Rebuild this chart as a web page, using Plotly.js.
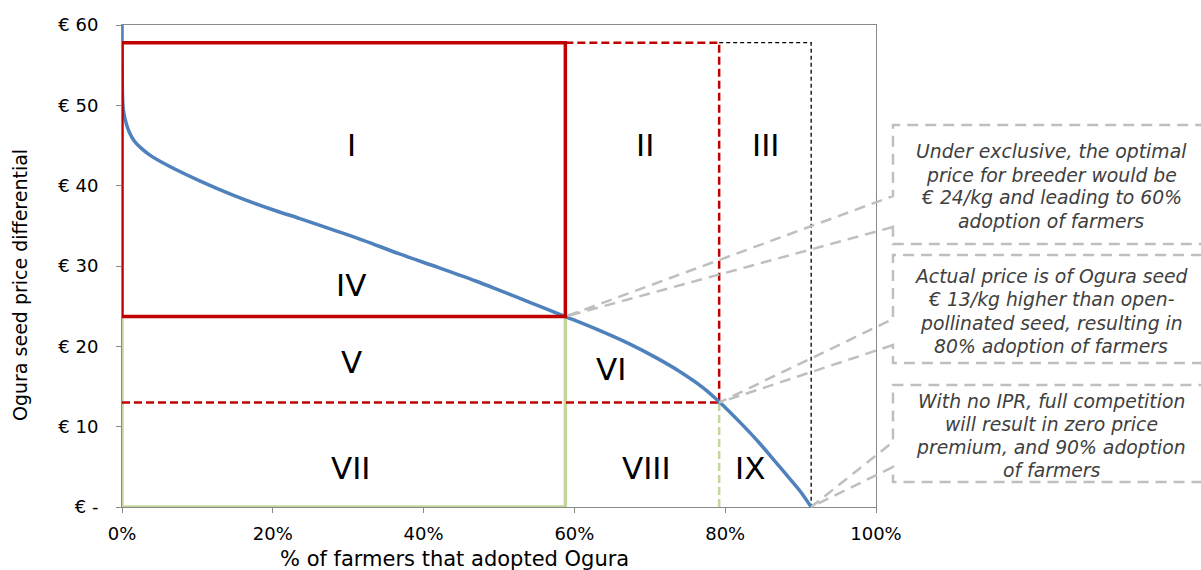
<!DOCTYPE html>
<html>
<head>
<meta charset="utf-8">
<script src="https://cdn.plot.ly/plotly-3.0.1.min.js"></script>
<style>html,body{margin:0;padding:0;background:#fff;}#chart{width:1201px;height:570px;}</style>
</head>
<body>
<div id="chart"></div>
<script>
// ---- data ----
const adoptionPct = [0, 0.05, 0.17, 0.6, 1.0, 1.6, 2.5, 3.7, 5.9, 10.3, 14.8, 20, 23.6, 28, 32, 36.8, 42, 47, 50, 54, 58.8, 63, 67.3, 71, 73.9, 77, 79.2, 82, 84.5, 86.5, 88.5, 90, 91.4];
const priceDiff   = [60, 52, 49.5, 47.6, 46.6, 45.6, 44.7, 43.8, 42.6, 40.6, 38.8, 37.0, 35.9, 34.5, 33.2, 31.5, 29.8, 28.1, 27.0, 25.5, 23.7, 22.1, 20.3, 18.5, 16.9, 14.9, 13.1, 10.5, 8.0, 5.8, 3.6, 1.9, 0];

const exclusivePoint   = [58.8, 23.7];  // optimal exclusive price / adoption
const actualPoint      = [79.2, 13.0];  // actual price / adoption
const competitionPoint = [91.4, 0];     // no IPR
const topPrice = 57.8;

const yTickVals = [0, 10, 20, 30, 40, 50, 60];
const yTickText = ['€ -', '€ 10', '€ 20', '€ 30', '€ 40', '€ 50', '€ 60'];
const xTickVals = [0, 20, 40, 60, 80, 100];
const xTickText = ['0%', '20%', '40%', '60%', '80%', '100%'];

const regionNames = ['I', 'II', 'III', 'IV', 'V', 'VI', 'VII', 'VIII', 'IX'];
const regionX     = [30.4, 69.4, 85.3, 30.4, 30.4, 64.9, 30.4, 69.6, 83.3];
const regionY     = [45.1, 45.1, 45.1, 27.6, 18.0, 17.2, 4.8, 4.8, 4.8];

const callout1 = ['Under exclusive, the optimal', 'price for breeder would be', '€ 24/kg and leading to 60%', 'adoption of farmers'];
const callout2 = ['Actual price is of Ogura seed', '€ 13/kg higher than open-', 'pollinated seed, resulting in', '80% adoption of farmers'];
const callout3 = ['With no IPR, full competition', 'will result in zero price', 'premium, and 90% adoption', 'of farmers'];

const xTitle = '% of farmers that adopted Ogura';
const yTitle = 'Ogura seed price differential';

// ---- layout geometry ----
const W = 1201, H = 570;
const L = 122, R = 876, T = 25, B = 507;
const pxX = x => (x - L) / (R - L);
const pxY = y => (B - y) / (B - T);
const dX = v => v / 100;
const dY = v => v / 60;

const RED = '#C00000', GREEN = '#C3D69B', BLUE = '#4F81BD', GREY = '#BFBFBF';
const FONT = 'DejaVu Sans, Verdana, sans-serif';

const [ex, ey] = exclusivePoint, [ax, ay] = actualPoint, [cx, cy] = competitionPoint;

const traces = [
  {x: [0, 0, ex, ex], y: [ey, 0, 0, ey], mode: 'lines', line: {color: GREEN, width: 3.5}, hoverinfo: 'skip'},
  {x: [ax, ax], y: [0, ay], mode: 'lines', line: {color: GREEN, width: 2.5, dash: '8px,4px'}, hoverinfo: 'skip'},
  {x: [ax, cx, cx], y: [topPrice, topPrice, cy], mode: 'lines', line: {color: '#000', width: 1.3, dash: '4px,3px'}, hoverinfo: 'skip'},
  {x: [ex, ax, ax], y: [topPrice, topPrice, ay], mode: 'lines', line: {color: RED, width: 2.5, dash: '8px,4px'}, hoverinfo: 'skip'},
  {x: [0, ax], y: [ay, ay], mode: 'lines', line: {color: RED, width: 2.5, dash: '8px,4px'}, hoverinfo: 'skip'},
  {x: adoptionPct, y: priceDiff, mode: 'lines', line: {color: BLUE, width: 3.5, shape: 'spline', smoothing: 0.9}, hoverinfo: 'skip'},
  {x: [0, 0, ex, ex, 0], y: [ey, topPrice, topPrice, ey, ey], mode: 'lines', line: {color: RED, width: 3.5}, hoverinfo: 'skip'}
];

const annotations = [];
regionNames.forEach((n, i) => annotations.push({
  x: regionX[i], y: regionY[i], xref: 'x', yref: 'y', text: n, showarrow: false,
  font: {family: FONT, size: 31, color: '#000'}
}));

function addCallout(lines, yCenters) {
  lines.forEach((t, i) => annotations.push({
    x: pxX(1051), y: pxY(yCenters[i]), xref: 'paper', yref: 'paper', text: '<i>' + t + '</i>',
    showarrow: false, xanchor: 'center', yanchor: 'middle',
    font: {family: FONT, size: 18.8, color: '#404040'}
  }));
}
addCallout(callout1, [152, 175, 198, 221]);
addCallout(callout2, [276, 299, 323, 346]);
addCallout(callout3, [401, 424, 447, 470]);

annotations.push({x: pxX(454), y: pxY(559), xref: 'paper', yref: 'paper', text: xTitle, showarrow: false,
  xanchor: 'center', yanchor: 'middle', font: {family: FONT, size: 21, color: '#000'}});
annotations.push({x: pxX(20), y: pxY(285), xref: 'paper', yref: 'paper', text: yTitle, showarrow: false, textangle: -90,
  xanchor: 'center', yanchor: 'middle', font: {family: FONT, size: 19, color: '#000'}});

function calloutPath(pt, a1, a2, top, bottom) {
  const p = (x, y) => x.toFixed(4) + ',' + y.toFixed(4);
  const x0 = pxX(893), x1 = pxX(1215);
  return 'M ' + p(x0, pxY(a2)) + ' L ' + p(dX(pt[0]), dY(pt[1])) + ' L ' + p(x0, pxY(a1)) +
    ' L ' + p(x0, pxY(top)) + ' L ' + p(x1, pxY(top)) + ' L ' + p(x1, pxY(bottom)) +
    ' L ' + p(x0, pxY(bottom)) + ' Z';
}
const shapes = [
  {type: 'path', xref: 'paper', yref: 'paper', path: calloutPath(exclusivePoint, 196, 227, 125, 244), line: {color: GREY, width: 2.5, dash: '11px,7px'}},
  {type: 'path', xref: 'paper', yref: 'paper', path: calloutPath(actualPoint, 319, 345, 255, 363), line: {color: GREY, width: 2.5, dash: '11px,7px'}},
  {type: 'path', xref: 'paper', yref: 'paper', path: calloutPath(competitionPoint, 442, 467, 385, 482), line: {color: GREY, width: 2.5, dash: '11px,7px'}}
];

const layout = {
  width: W, height: H,
  margin: {l: L, r: W - R, t: T, b: H - B},
  paper_bgcolor: '#fff', plot_bgcolor: '#fff',
  showlegend: false,
  font: {family: FONT, size: 18, color: '#000'},
  xaxis: {
    range: [0, 100], tickvals: xTickVals, ticktext: xTickText,
    showgrid: false, zeroline: false, showline: true, mirror: true, linecolor: '#898989', linewidth: 1,
    ticks: 'outside', ticklen: 5, tickcolor: '#898989', tickfont: {family: FONT, size: 18, color: '#000'},
    ticklabelstandoff: 5, layer: 'below traces', fixedrange: true
  },
  yaxis: {
    range: [0, 60], tickvals: yTickVals, ticktext: yTickText,
    showgrid: false, zeroline: false, showline: true, mirror: true, linecolor: '#898989', linewidth: 1,
    ticks: 'outside', ticklen: 5, tickcolor: '#898989', tickfont: {family: FONT, size: 18, color: '#000'},
    ticklabelstandoff: 14, layer: 'below traces', fixedrange: true
  },
  annotations: annotations,
  shapes: shapes
};

Plotly.newPlot('chart', traces, layout, {staticPlot: true, displayModeBar: false});
</script>
</body>
</html>
